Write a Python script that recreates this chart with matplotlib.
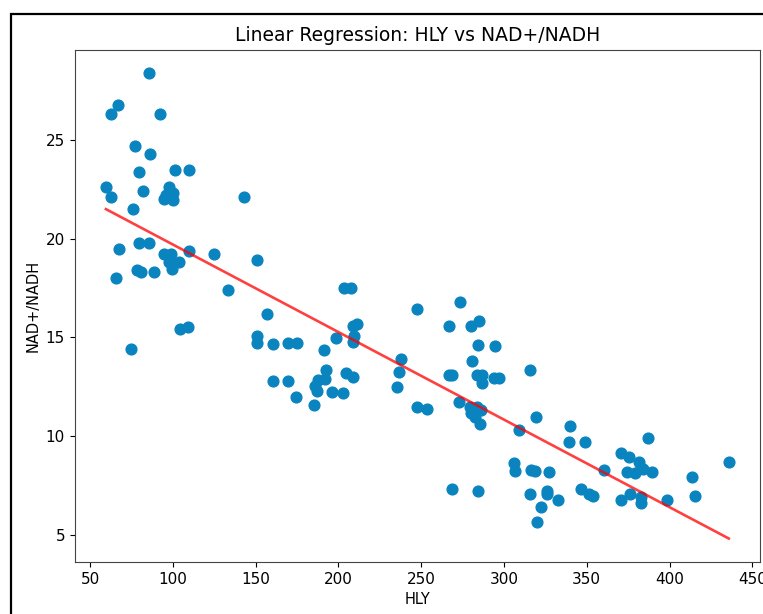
import numpy as np
import matplotlib
matplotlib.use("Agg")
import matplotlib.pyplot as plt
from matplotlib.patches import Rectangle

# HLY values
hly = [85.6, 66.7, 62.7, 92.4, 77.0, 86.2, 79.4, 101.5, 109.7, 59.5, 62.7, 82.2,
       97.9, 95.9, 99.9, 100.3, 94.7,
       142.9, 75.8, 67.5, 79.4, 85.8, 109.7, 124.6, 94.7, 98.7, 97.9, 103.6, 99.3,
       78.2, 80.6, 88.3, 65.7, 133.1, 150.8,
       74.9, 104.3, 109.3, 150.6, 150.6,
       203.3, 207.3, 157.0, 247.5, 160.2, 169.5, 175.1, 198.3, 208.5, 211.0, 209.5,
       208.9, 191.0, 237.7, 236.5, 235.1, 247.5, 192.4, 191.8, 187.8, 185.8, 187.2,
       204.5, 208.9, 160.2, 169.5, 195.8, 202.9, 174.3, 185.2,
       253.4, 266.9, 268.5, 272.9, 280.5, 284.3, 294.4, 283.4, 286.8, 286.6, 294.2,
       296.8, 315.7,
       279.3, 283.4, 286.3, 280.3, 282.3, 285.3,
       273.7, 266.5, 280.3, 284.6,
       319.2, 309.1, 339.7, 339.1, 348.7, 387.2, 370.5, 375.3, 381.7, 305.9, 306.5,
       316.2, 318.6, 327.2, 360.6, 374.5, 378.9, 382.5, 383.9, 389.3, 435.8, 413.7,
       415.3, 268.5, 284.2, 315.4, 326.0, 326.0, 332.4, 322.4, 320.0, 346.3, 351.3,
       353.8, 370.5, 375.9, 383.0, 383.0, 398.6]

# NAD+/NADH values
nad = [28.4, 26.8, 26.3, 26.3, 24.7, 24.3, 23.4, 23.5, 23.5, 22.6, 22.1, 22.4,
       22.6, 22.2, 22.3, 21.95, 22.0,
       22.1, 21.5, 19.5, 19.8, 19.8, 19.4, 19.2, 19.2, 19.2, 18.8, 18.8, 18.45,
       18.4, 18.3, 18.3, 18.0, 17.4, 18.9,
       14.4, 15.4, 15.5, 15.05, 14.7,
       17.5, 17.5, 16.2, 16.45, 14.65, 14.7, 14.7, 14.95, 15.55, 15.7, 15.05,
       14.75, 14.35, 13.9, 13.25, 12.5, 11.45, 13.35, 12.9, 12.85, 12.55, 12.3,
       13.2, 13.0, 12.8, 12.8, 12.25, 12.2, 11.95, 11.55,
       11.35, 13.1, 13.1, 11.7, 13.8, 14.6, 14.55, 13.1, 13.1, 12.7, 12.95,
       12.95, 13.35,
       11.45, 11.45, 11.3, 11.15, 10.95, 10.6,
       16.8, 15.55, 15.55, 15.85,
       10.95, 10.3, 10.5, 9.7, 9.7, 9.9, 9.15, 8.95, 8.7, 8.65, 8.2,
       8.25, 8.2, 8.15, 8.25, 8.15, 8.1, 8.4, 8.3, 8.15, 8.7, 7.9,
       6.95, 7.3, 7.2, 7.05, 7.2, 7.05, 6.75, 6.4, 5.65, 7.3, 7.05,
       6.95, 6.75, 7.07, 6.9, 6.6, 6.75]

# fitted line
slope = -0.04438
intercept = 24.14

fig = plt.figure(figsize=(7.63, 6.14), dpi=100)
ax = fig.add_axes([0.098, 0.085, 0.898, 0.834])

ax.scatter(hly, nad, s=60, color="#0a84bf")
line_x = np.array([min(hly), max(hly)])
ax.plot(line_x, intercept + slope * line_x, color="red", alpha=0.75, lw=1.9)

ax.set_title("Linear Regression: HLY vs NAD+/NADH", fontsize=13.5)
ax.set_xlabel("HLY", fontsize=10.5)
ax.set_ylabel("NAD+/NADH", fontsize=10.5)
ax.tick_params(labelsize=11)
ax.set_yticks([5, 10, 15, 20, 25])
for sp in ax.spines.values():
    sp.set_color("#444444")

# black frame around the screenshot
fig.patches.append(Rectangle((0.0144, -0.05), 1.2, 0.977 + 0.05, transform=fig.transFigure,
                             fill=False, lw=1.6, edgecolor="black", clip_on=False))

fig.savefig("out.png", dpi=100)
